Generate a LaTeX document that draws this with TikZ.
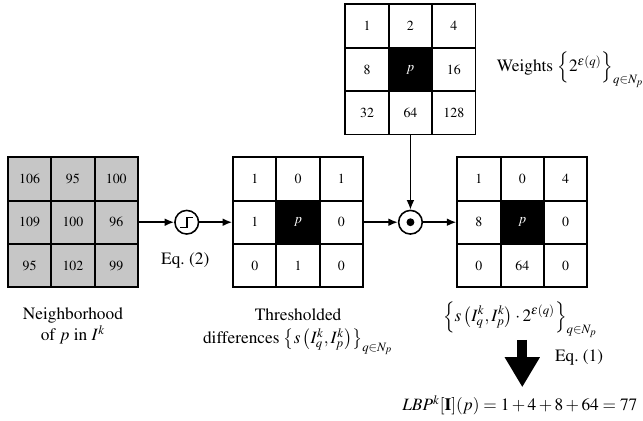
\documentclass[tikz,border=0pt]{standalone}
\usepackage[T1]{fontenc}
\usepackage{amsmath}
\usepackage{mathptmx}
\usepackage{tikz}
\usetikzlibrary{arrows.meta}

\begin{document}
\begin{tikzpicture}[
	cell/.style={draw,line width=1.1pt,minimum size=0.88cm,inner sep=0pt,font=\footnotesize},
	graycell/.style={cell,fill=gray!45},
	ctr/.style={cell,fill=black,text=white},
	op/.style={draw,circle,line width=0.9pt,minimum size=0.48cm,inner sep=0pt},
	arr/.style={line width=0.9pt,-{Latex[length=5.5pt,width=4.5pt]}},
	bigarr/.style={line width=0.2cm,-{Triangle[length=0.61cm,width=0.67cm]}}
]
	\useasboundingbox (0,0) rectangle (13.05,-8.53);
	% neighborhood of p
	\foreach \v [count=\i from 0] in {106,95,100,109,100,96,95,102,99}
		\node[graycell] (nb\i) at ({1.48+0.88*(mod(\i,3)-1)},{-4.51-0.88*(int(\i/3)-1)}) {\v};
	% thresholded differences
	\foreach \v/\s [count=\i from 0] in {1/cell,0/cell,1/cell,1/cell,{$p$}/ctr,0/cell,0/cell,1/cell,0/cell}
		\node[style=\s] (th\i) at ({6.05+0.88*(mod(\i,3)-1)},{-4.51-0.88*(int(\i/3)-1)}) {\v};
	% weights
	\foreach \v/\s [count=\i from 0] in {1/cell,2/cell,4/cell,8/cell,{$p$}/ctr,16/cell,32/cell,64/cell,128/cell}
		\node[style=\s] (wt\i) at ({8.33+0.88*(mod(\i,3)-1)},{-1.41-0.88*(int(\i/3)-1)}) {\v};
	% weighted result
	\foreach \v/\s [count=\i from 0] in {1/cell,0/cell,4/cell,8/cell,{$p$}/ctr,0/cell,0/cell,64/cell,0/cell}
		\node[style=\s] (rs\i) at ({10.60+0.88*(mod(\i,3)-1)},{-4.51-0.88*(int(\i/3)-1)}) {\v};

	% operators
	\node[op] (stp) at (3.79,-4.51) {};
	\draw[line width=0.9pt] ([shift={(-0.13,-0.11)}]stp.center) -- ++(0.13,0) -- ++(0,0.21) -- ++(0.12,0);
	\node[op] (mul) at (8.33,-4.51) {};
	\fill (mul) circle (0.08);

	\draw[arr] (nb5.east) -- (stp);
	\draw[arr] (stp) -- (th3.west);
	\draw[arr] (th5.east) -- (mul);
	\draw[arr] (mul) -- (rs3.west);
	\draw[arr] (wt7.south) -- (mul);

	% labels
	\node (eqtwo) at (3.76,-5.28) {Eq.~(2)};
	\node[anchor=west] (wlab) at (9.96,-1.42) {Weights $\left\{2^{\varepsilon(q)}\right\}_{q\in N_p}$};
	\node[align=center] (nblab) at (1.48,-6.62) {Neighborhood\\of $p$ in $I^k$};
	\node[align=center] (thlab) at (6.05,-6.74) {Thresholded\\[1pt]differences $\left\{s\left(I_q^k,I_p^k\right)\right\}_{q\in N_p}$};
	\node (rslab) at (10.56,-6.48) {$\left\{s\left(I_q^k,I_p^k\right)\cdot 2^{\varepsilon(q)}\right\}_{q\in N_p}$};
	\node[anchor=west] (eqone) at (11.14,-7.25) {Eq.~(1)};
	\node (lbp) at (10.55,-8.22) {$\mathit{LBP}^k[\mathbf{I}](p)=1+4+8+64=77$};

	\coordinate (a1) at (10.60,-6.90);
	\coordinate (a2) at (10.60,-7.86);
	\draw[bigarr] (a1) -- (a2);
\end{tikzpicture}
\end{document}
